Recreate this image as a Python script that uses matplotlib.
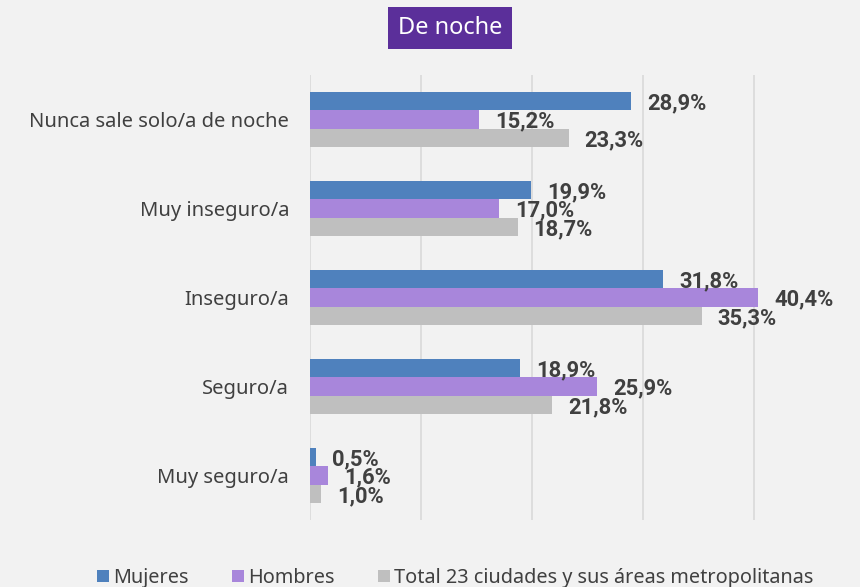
import numpy as np
import matplotlib.pyplot as plt

categorias = ["Nunca sale solo/a de noche", "Muy inseguro/a", "Inseguro/a",
              "Seguro/a", "Muy seguro/a"]
mujeres = [28.9, 19.9, 31.8, 18.9, 0.5]
hombres = [15.2, 17.0, 40.4, 25.9, 1.6]
total = [23.3, 18.7, 35.3, 21.8, 1.0]
series = ["Mujeres", "Hombres", "Total 23 ciudades y sus áreas metropolitanas"]
colores = ["#4f81bd", "#a886db", "#bfbfbf"]

plt.rcParams['font.family'] = ['Noto Sans', 'DejaVu Sans']
fondo = "#f2f2f2"

fig = plt.figure(figsize=(8.6, 5.87), dpi=100, facecolor=fondo)
ax = fig.add_axes([310 / 860, 1 - 520 / 587, 550 / 860, 445 / 587])
ax.set_facecolor(fondo)

y = np.arange(len(categorias))
h = 0.207
for i, (vals, nombre, col) in enumerate(zip([mujeres, hombres, total], series, colores)):
    pos = y + (i - 1) * h
    ax.barh(pos, vals, height=h, color=col, label=nombre, zorder=3)
    for p, v in zip(pos, vals):
        ax.annotate(f"{v:.1f}%".replace(".", ","), (v, p), xytext=(16, -2),
                    textcoords="offset pixels",
                    va="center", ha="left", fontsize=15.8, fontweight="bold",
                    family=["Roboto", "DejaVu Sans"],
                    color="#404040", zorder=4)

ax.set_ylim(len(categorias) - 0.5, -0.5)
ax.set_xlim(0, 49.55)
ax.set_xticks([0, 10, 20, 30, 40])
ax.xaxis.grid(True, color="#d9d9d9", linewidth=1.2, zorder=0)
ax.tick_params(axis="x", labelbottom=False, length=0)
ax.tick_params(axis="y", length=0, pad=15)
ax.set_yticks(y)
ax.set_yticklabels(categorias, fontsize=14.5, color="#404040")
for s in ax.spines.values():
    s.set_visible(False)

fig.text(450 / 860, 1 - 28 / 587, "De noche", ha="center", va="center",
         fontsize=17, color="white",
         bbox=dict(boxstyle="square,pad=0.4", facecolor="#5b2f9a", edgecolor="none"))

fig.legend(loc="center", bbox_to_anchor=(455 / 860, 1 - 578 / 587), ncol=3,
           frameon=False, fontsize=14.3, handlelength=0.6, handleheight=0.6,
           handletextpad=0.2, columnspacing=2.2, labelcolor="#404040")

fig.savefig("out.png", dpi=100, facecolor=fondo)
